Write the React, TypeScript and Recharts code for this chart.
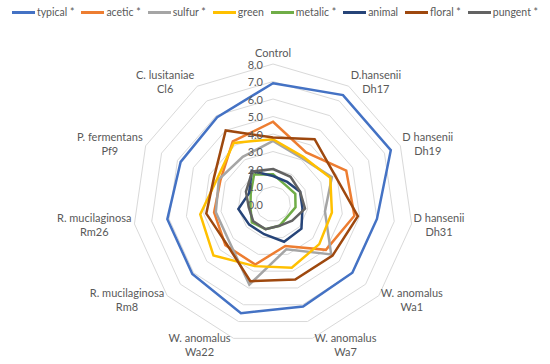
import React from "react";
import { RadarChart, Radar, PolarGrid, PolarAngleAxis, PolarRadiusAxis, Legend } from "recharts";

const categories = [
  "Control",
  "D.hansenii Dh17",
  "D hansenii Dh19",
  "D hansenii Dh31",
  "W. anomalus Wa1",
  "W. anomalus Wa7",
  "W. anomalus Wa22",
  "R. mucilaginosa Rm8",
  "R. mucilaginosa Rm26",
  "P. fermentans Pf9",
  "C. lusitaniae Cl6",
];

const typical = [6.9, 7.4, 7.4, 6.0, 6.0, 6.1, 6.5, 6.1, 6.1, 5.8, 5.9];
const acetic = [4.7, 3.5, 4.6, 4.7, 4.0, 2.5, 3.6, 3.6, 3.4, 3.3, 4.25];
const sulfur = [3.6, 3.1, 3.7, 3.0, 4.4, 2.7, 4.8, 3.3, 3.3, 3.4, 3.2];
const green = [3.7, 3.2, 3.6, 3.4, 3.5, 3.8, 3.7, 4.5, 4.2, 3.5, 4.15];
const metalic = [1.7, 1.3, 1.4, 1.3, 1.1, 1.3, 1.5, 1.6, 1.3, 1.4, 2.0];
const animal = [1.6, 1.5, 1.7, 1.7, 2.15, 2.25, 1.8, 1.8, 2.0, 1.5, 2.25];
const floral = [3.8, 4.4, 3.9, 4.9, 4.5, 4.5, 4.6, 3.5, 3.85, 3.7, 5.0];
const pungent = [2.0, 1.85, 1.7, 1.85, 1.45, 1.3, 1.5, 1.5, 1.4, 1.7, 2.2];

const radiusTicks = [0, 1, 2, 3, 4, 5, 6, 7, 8];

const series = [
  { key: "typical", name: "typical *", color: "#4472C4", values: typical },
  { key: "acetic", name: "acetic *", color: "#ED7D31", values: acetic },
  { key: "sulfur", name: "sulfur *", color: "#A5A5A5", values: sulfur },
  { key: "green", name: "green", color: "#FFC000", values: green },
  { key: "metalic", name: "metalic *", color: "#70AD47", values: metalic },
  { key: "animal", name: "animal", color: "#264478", values: animal },
  { key: "floral", name: "floral *", color: "#9E480E", values: floral },
  { key: "pungent", name: "pungent *", color: "#636363", values: pungent },
];

const data = categories.map((c, i) => {
  const row: Record<string, any> = { category: c };
  series.forEach((s) => (row[s.key] = s.values[i]));
  return row;
});

const FONT = "Lato, 'Open Sans', sans-serif";
const FONT_SIZE = 11;
const TEXT_COLOR = "#595959";

let ctx: CanvasRenderingContext2D | null = null;
const measure = (t: string) => {
  if (!ctx) {
    const c = document.createElement("canvas");
    ctx = c.getContext("2d");
  }
  if (!ctx) return t.length * 5.5;
  ctx.font = `${FONT_SIZE}px Lato`;
  return ctx.measureText(t).width;
};

const splitLabel = (s: string) => {
  const i = s.lastIndexOf(" ");
  if (i < 0) return [s];
  return [s.slice(0, i), s.slice(i + 1)];
};

const AngleTick = (props: any) => {
  const { payload, cx, cy, radius } = props;
  const angle = payload.coordinate;
  const rad = (-angle * Math.PI) / 180;
  const sx = Math.cos(rad);
  const sy = Math.sin(rad);
  const vx = cx + sx * radius;
  const vy = cy + sy * radius;
  const lines = splitLabel(String(payload.value));
  const w = Math.max(...lines.map(measure));
  const lh = 14;
  const h = lines.length * lh;
  let centerX: number;
  let centerY: number;
  if (Math.abs(sx) < 0.1) {
    centerX = vx;
    centerY = sy < 0 ? vy - 5 - h / 2 : vy + 5 + h / 2;
  } else {
    centerX = sx > 0 ? vx + 2 + w / 2 : vx - 3 - w / 2;
    centerY = vy + sy * 6;
  }
  const top = centerY - h / 2;
  return (
    <g>
      {lines.map((l, i) => (
        <text
          key={i}
          x={centerX}
          y={top + lh * i + lh / 2}
          textAnchor="middle"
          dominantBaseline="central"
          fill={TEXT_COLOR}
          fontSize={FONT_SIZE}
          fontFamily={FONT}
        >
          {l}
        </text>
      ))}
    </g>
  );
};

const RadiusTick = (props: any) => {
  const { x, y, payload } = props;
  return (
    <text
      x={x - 10}
      y={y}
      textAnchor="end"
      dominantBaseline="central"
      fill={TEXT_COLOR}
      fontSize={FONT_SIZE}
      fontFamily={FONT}
    >
      {Number(payload.value).toFixed(1)}
    </text>
  );
};

const LegendContent = () => (
  <div
    style={{
      display: "flex",
      justifyContent: "center",
      alignItems: "center",
      fontFamily: FONT,
      fontSize: 10.5,
      color: TEXT_COLOR,
      gap: 7,
      whiteSpace: "nowrap",
    }}
  >
    {series.map((s) => (
      <div key={s.key} style={{ display: "flex", alignItems: "center", flexShrink: 0 }}>
        <div style={{ width: 23, height: 3, background: s.color, marginRight: 2, flexShrink: 0 }} />
        <span style={{ whiteSpace: "nowrap" }}>{s.name}</span>
      </div>
    ))}
  </div>
);

export default function App() {
  return (
    <div style={{ position: "absolute", left: 0, top: 0, width: 550, height: 364, background: "#fff" }}>
      <RadarChart
        width={550}
        height={364}
        data={data}
        cx={273}
        cy={204}
        outerRadius={140}
        startAngle={90}
        endAngle={-270}
        margin={{ top: 0, right: 0, bottom: 0, left: 0 }}
      >
        <PolarGrid gridType="polygon" radialLines={false} stroke="#D9D9D9" strokeWidth={1} />
        <PolarAngleAxis dataKey="category" tick={<AngleTick />} tickLine={false} axisLine={false} />
        <PolarRadiusAxis
          angle={90}
          domain={[0, 8]}
          ticks={radiusTicks}
          tickCount={9}
          axisLine={false}
          tickLine={false}
          tick={<RadiusTick />}
        />
        {series.map((s) => (
          <Radar
            key={s.key}
            name={s.name}
            dataKey={s.key}
            stroke={s.color}
            strokeWidth={2.5}
            fill="none"
            fillOpacity={0}
            dot={false}
            isAnimationActive={false}
          />
        ))}
        <Legend
          verticalAlign="top"
          content={<LegendContent />}
          wrapperStyle={{ top: 6, left: 0, width: 550 }}
        />
      </RadarChart>
    </div>
  );
}
